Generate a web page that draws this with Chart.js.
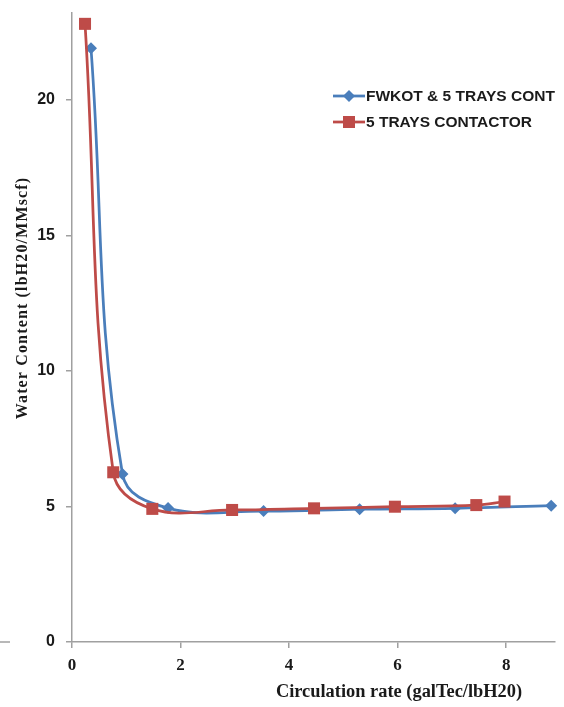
<!DOCTYPE html>
<html>
<head>
<meta charset="utf-8">
<script src="https://cdn.jsdelivr.net/npm/chart.js@4/dist/chart.umd.min.js"></script>
<style>
  html, body { margin: 0; padding: 0; background: #ffffff; }
  #c { display: block; }
</style>
</head>
<body>
<canvas id="c" width="564" height="707"></canvas>
<script>
// Water content vs glycol circulation rate, two dehydration configurations
const fwkotRate  = [0.35, 0.93, 1.77, 3.53, 5.30, 7.06, 8.83];
const fwkotWater = [21.9, 6.2, 4.94, 4.83, 4.90, 4.93, 5.03];
const traysRate  = [0.24, 0.76, 1.48, 2.95, 4.46, 5.95, 7.45, 7.97];
const traysWater = [22.8, 6.26, 4.91, 4.87, 4.93, 4.99, 5.05, 5.18];
const seriesNames = ['FWKOT & 5 TRAYS CONT', '5 TRAYS CONTACTOR'];
const xTicks = [0, 2, 4, 6, 8];
const yTicks = [0, 5, 10, 15, 20];
const xTitle = 'Circulation rate (galTec/lbH20)';
const yTitle = 'Water Content (lbH20/MMscf)';

const BLUE = '#4a7ebb';
const RED = '#be4b48';
const AXIS = '#a0a0a0';
const INK = '#1a1a1a';

const toPoints = (xs, ys) => xs.map((x, i) => ({ x: x, y: ys[i] }));

// Axis titles, the inset legend and the small stub at the left edge
const decorations = {
  id: 'decorations',
  afterDraw(chart) {
    const ctx = chart.ctx;
    ctx.save();
    ctx.fillStyle = INK;
    ctx.textBaseline = 'middle';

    ctx.font = 'bold 18.4px "Liberation Serif", "Times New Roman", serif';
    ctx.textAlign = 'center';
    ctx.fillText(xTitle, 399, 692);

    ctx.save();
    ctx.translate(23, 298);
    ctx.rotate(-Math.PI / 2);
    ctx.font = 'bold 16px "Liberation Serif", "Times New Roman", serif';
    ctx.letterSpacing = '1.15px';
    ctx.fillText(yTitle, 0, 0);
    ctx.restore();

    // legend
    const rows = [
      { name: seriesNames[0], color: BLUE, y: 96, shape: 'diamond' },
      { name: seriesNames[1], color: RED, y: 122, shape: 'square' }
    ];
    ctx.font = 'bold 15.5px "Liberation Sans", Arial, sans-serif';
    ctx.textAlign = 'left';
    rows.forEach(r => {
      ctx.strokeStyle = r.color;
      ctx.lineWidth = 2.75;
      ctx.beginPath();
      ctx.moveTo(333, r.y);
      ctx.lineTo(365, r.y);
      ctx.stroke();
      ctx.fillStyle = r.color;
      ctx.beginPath();
      if (r.shape === 'diamond') {
        ctx.moveTo(349, r.y - 6);
        ctx.lineTo(355, r.y);
        ctx.lineTo(349, r.y + 6);
        ctx.lineTo(343, r.y);
        ctx.closePath();
      } else {
        ctx.rect(343, r.y - 6, 12, 12);
      }
      ctx.fill();
      ctx.fillStyle = INK;
      ctx.fillText(r.name, 366, r.y + 1);
    });

    ctx.strokeStyle = AXIS;
    ctx.lineWidth = 1.5;
    ctx.beginPath();
    ctx.moveTo(0, 642);
    ctx.lineTo(10, 642);
    ctx.stroke();
    ctx.restore();
  }
};

new Chart(document.getElementById('c'), {
  type: 'line',
  data: {
    datasets: [
      {
        label: seriesNames[0],
        data: toPoints(fwkotRate, fwkotWater),
        borderColor: BLUE,
        backgroundColor: BLUE,
        borderWidth: 2.75,
        pointStyle: 'rectRot',
        pointRadius: 6,
        pointBorderWidth: 0,
        tension: 0.4,
        clip: false,
        order: 2
      },
      {
        label: seriesNames[1],
        data: toPoints(traysRate, traysWater),
        borderColor: RED,
        backgroundColor: RED,
        borderWidth: 2.75,
        pointStyle: 'rect',
        pointRadius: 8.5,
        pointBorderWidth: 0,
        tension: 0.4,
        clip: false,
        order: 1
      }
    ]
  },
  options: {
    responsive: false,
    animation: false,
    layout: { padding: { top: 13, right: 9, left: 0, bottom: 0 } },
    plugins: {
      legend: { display: false },
      tooltip: { enabled: false }
    },
    scales: {
      x: {
        type: 'linear',
        min: 0,
        max: 8.9,
        afterBuildTicks: s => { s.ticks = xTicks.map(v => ({ value: v })); },
        afterFit: s => { s.height = 65; s.paddingLeft = 0; s.paddingRight = 0; },
        grid: { drawOnChartArea: false, drawTicks: true, tickLength: 6, color: AXIS, lineWidth: 1.5 },
        border: { color: AXIS, width: 1.5 },
        ticks: {
          padding: 7,
          color: INK,
          font: { family: '"Liberation Serif", "Times New Roman", serif', size: 17, weight: 'bold' }
        }
      },
      y: {
        type: 'linear',
        min: 0,
        max: 23.2,
        afterBuildTicks: s => { s.ticks = yTicks.map(v => ({ value: v })); },
        afterFit: s => { s.width = 72; s.paddingTop = 0; s.paddingBottom = 0; },
        grid: { drawOnChartArea: false, drawTicks: true, tickLength: 6, color: AXIS, lineWidth: 1.5 },
        border: { color: AXIS, width: 1.5 },
        ticks: {
          padding: 11,
          color: INK,
          font: { family: '"Liberation Sans", Arial, sans-serif', size: 16, weight: 'bold' }
        }
      }
    }
  },
  plugins: [decorations]
});
</script>
</body>
</html>
